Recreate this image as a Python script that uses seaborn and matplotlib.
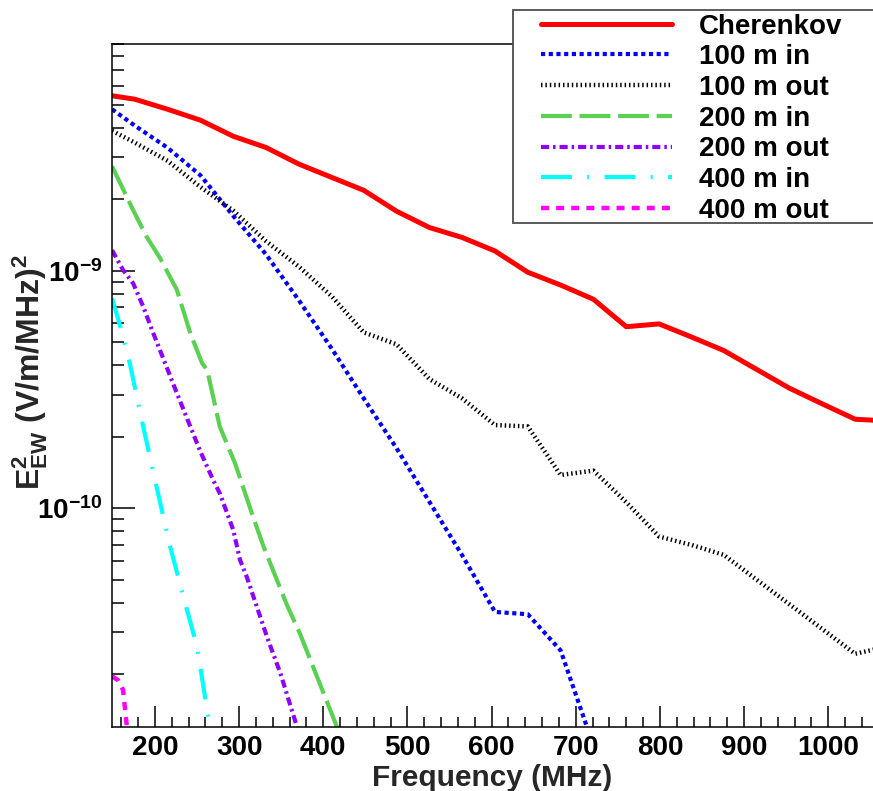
import matplotlib
matplotlib.use("Agg")
import matplotlib.pyplot as plt
from matplotlib.ticker import MultipleLocator, LogLocator, FuncFormatter, NullFormatter
from matplotlib.patches import Rectangle
import numpy as np
import seaborn as sns

# Spectral density E^2_EW in (V/m/MHz)^2 versus frequency in MHz
freq_cherenkov = [149, 176, 215, 254, 293, 332, 371, 410, 448, 487, 526, 565, 604,
                  643, 682, 721, 760, 799, 838, 876, 915, 954, 993, 1032, 1071]
e2_cherenkov = [5.45e-9, 5.27e-9, 4.78e-9, 4.30e-9, 3.68e-9, 3.30e-9, 2.81e-9, 2.47e-9,
                2.18e-9, 1.78e-9, 1.52e-9, 1.38e-9, 1.21e-9, 9.85e-10, 8.7e-10, 7.58e-10,
                5.81e-10, 5.97e-10, 5.25e-10, 4.61e-10, 3.84e-10, 3.20e-10, 2.75e-10,
                2.37e-10, 2.33e-10]

freq_100_in = [149, 176, 215, 254, 293, 332, 371, 410, 448, 487, 526, 565, 604, 643, 682, 721]
e2_100_in = [4.78e-9, 4.08e-9, 3.29e-9, 2.52e-9, 1.70e-9, 1.17e-9, 7.5e-10, 4.7e-10,
             2.9e-10, 1.79e-10, 1.065e-10, 6.34e-11, 3.66e-11, 3.58e-11, 2.52e-11, 1.0e-11]

freq_100_out = [149, 176, 215, 254, 293, 332, 371, 410, 448, 487, 526, 565, 604,
                643, 682, 721, 760, 799, 838, 876, 915, 954, 993, 1032, 1071]
e2_100_out = [3.88e-9, 3.46e-9, 2.90e-9, 2.25e-9, 1.79e-9, 1.33e-9, 1.04e-9, 7.8e-10,
              5.5e-10, 4.9e-10, 3.5e-10, 2.9e-10, 2.24e-10, 2.21e-10, 1.38e-10, 1.44e-10,
              1.06e-10, 7.6e-11, 7.0e-11, 6.36e-11, 5.0e-11, 3.94e-11, 3.1e-11, 2.44e-11,
              2.62e-11]

freq_200_in = [149, 174, 190, 206, 226, 242, 256, 262, 277, 295, 317, 329, 357, 372, 412, 425]
e2_200_in = [2.75e-9, 1.80e-9, 1.39e-9, 1.13e-9, 8.3e-10, 5.45e-10, 4.08e-10, 3.82e-10,
             2.205e-10, 1.55e-10, 9.1e-11, 6.9e-11, 3.9e-11, 2.98e-11, 1.31e-11, 1.0e-11]

freq_200_out = [149, 162, 174, 186, 198, 226, 254, 269, 277, 293, 301, 309, 321, 333, 349, 368, 380]
e2_200_out = [1.22e-9, 1.007e-9, 8.85e-10, 7.06e-10, 5.45e-10, 3.05e-10, 1.73e-10, 1.316e-10,
              1.156e-10, 8.1e-11, 6.06e-11, 5.15e-11, 3.85e-11, 2.88e-11, 2.02e-11, 1.225e-11,
              9.0e-12]

freq_400_in = [149, 160, 170, 186, 200, 218, 238, 250, 265, 280]
e2_400_in = [7.65e-10, 5.63e-10, 4.08e-10, 2.205e-10, 1.316e-10, 6.89e-11, 3.73e-11,
             2.615e-11, 1.205e-11, 6.0e-12]

freq_400_out = [149, 156, 162, 166, 172]
e2_400_out = [1.96e-11, 1.89e-11, 1.72e-11, 1.26e-11, 8.0e-12]

labels = ["Cherenkov", "100 m in", "100 m out", "200 m in", "200 m out", "400 m in", "400 m out"]
colors = ["#FF0000", "#0000FF", "#000000", "#5AD152", "#8F00FF", "#00FFFF", "#FF00FF"]

sns.set_theme(style="ticks")
plt.rcParams.update({
    "font.family": ["Liberation Sans", "DejaVu Sans"],
    "font.weight": "bold",
    "axes.labelweight": "bold",
    "mathtext.fontset": "custom",
    "mathtext.rm": "Liberation Sans:bold",
    "mathtext.it": "Liberation Sans:bold",
    "mathtext.bf": "Liberation Sans:bold",
    "mathtext.default": "rm",
    "axes.edgecolor": "black",
    "xtick.color": "black",
    "ytick.color": "black",
    "text.color": "black",
})

fig = plt.figure(figsize=(8.73, 7.91), dpi=100)
ax = fig.add_axes([112 / 873, 1 - 727 / 791, 1 - 112 / 873, (727 - 44) / 791])

series = [
    (freq_cherenkov, e2_cherenkov, 3.6, "-"),
    (freq_100_in, e2_100_in, 3.0, (0, (1.0, 0.85))),
    (freq_100_out, e2_100_out, 3.2, (0, (0.33, 0.66))),
    (freq_200_in, e2_200_in, 3.0, (0, (7.4, 1.85))),
    (freq_200_out, e2_200_out, 3.0, (0, (1.95, 0.95, 0.6, 0.95))),
    (freq_400_in, e2_400_in, 3.0, (0, (7.4, 3.7, 0.45, 3.7))),
    (freq_400_out, e2_400_out, 3.2, (0, (1.8, 1.6))),
]

for (f, e2, lw, ls), name, col in zip(series, labels, colors):
    sns.lineplot(x=f, y=e2, ax=ax, color=col, linewidth=lw, linestyle=ls,
                 label=name, sort=False, estimator=None, legend=False)

ax.set_yscale("log")
ax.set_xlim(148.9, 1053.2)
ax.set_ylim(1.2e-11, 9.0e-9)

ax.xaxis.set_major_locator(MultipleLocator(100))
ax.xaxis.set_minor_locator(MultipleLocator(20))
ax.yaxis.set_major_locator(LogLocator(base=10))
ax.yaxis.set_minor_locator(LogLocator(base=10, subs=np.arange(2, 10)))
ax.yaxis.set_major_formatter(FuncFormatter(
    lambda v, pos: r"$\mathbf{10^{%d}}$" % int(round(np.log10(v)))))
ax.yaxis.set_minor_formatter(NullFormatter())

ax.tick_params(axis="both", which="both", direction="in", top=False, right=False, width=1.1)
ax.tick_params(axis="x", which="major", length=15, labelsize=20, pad=6)
ax.tick_params(axis="x", which="minor", length=7.5)
ax.tick_params(axis="y", which="major", length=16.5, labelsize=20, pad=7)
ax.tick_params(axis="y", which="minor", length=8.5)

for side in ("left", "bottom", "top"):
    ax.spines[side].set_linewidth(1.1)
    ax.spines[side].set_color("black")
ax.spines["right"].set_visible(False)
ax.grid(False)

ax.set_xlabel("Frequency (MHz)", fontsize=21.5)
ax.xaxis.set_label_coords(0.5, -0.054)
ax.set_ylabel(r"$\mathrm{E^{2}_{EW}}$ (V/m/MHz)$^{2}$", fontsize=23)
ax.yaxis.set_label_coords(-0.081, 0.52)

# Legend box, running off the right edge of the canvas
fig.add_artist(Rectangle((513 / 873, 1 - 223 / 791), (900 - 513) / 873, 213 / 791,
                         transform=fig.transFigure, facecolor="white",
                         edgecolor="#4d4d4d", linewidth=1.3, zorder=3))
handles, names = ax.get_legend_handles_labels()
leg = fig.legend(handles, names, loc="upper left", bbox_to_anchor=(541 / 873, 1 - 13.5 / 791),
                 frameon=False, borderpad=0, borderaxespad=0, handlelength=4.71,
                 handletextpad=0.97, labelspacing=0.17,
                 prop={"size": 20, "weight": "bold"})
leg.set_zorder(4)

fig.savefig("out.png", dpi=100)
